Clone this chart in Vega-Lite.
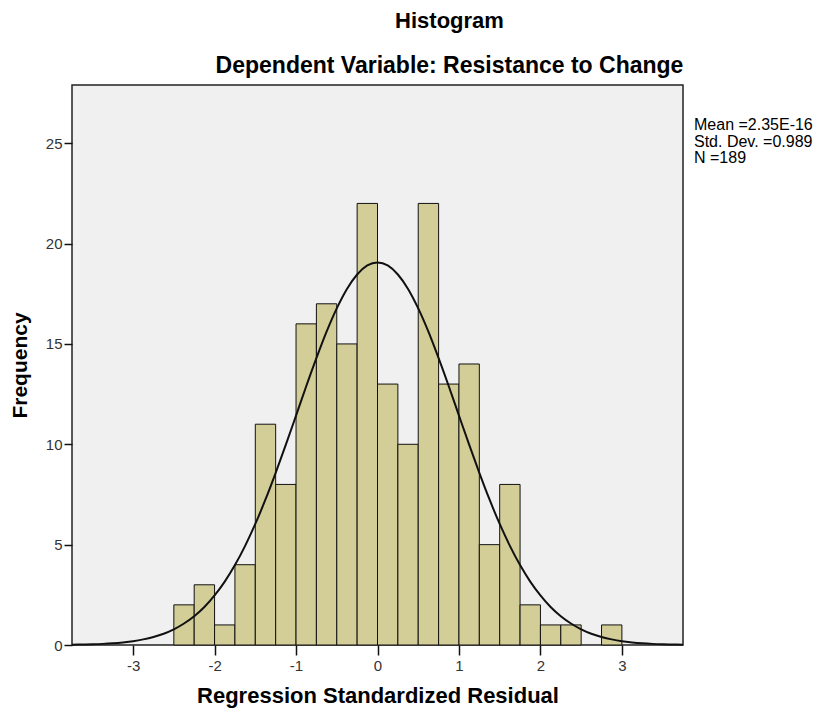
{
  "$schema": "https://vega.github.io/schema/vega-lite/v6.json",
  "width": 611,
  "height": 560,
  "autosize": "none",
  "padding": {"left": 72, "top": 85, "right": 135, "bottom": 68},
  "background": "white",
  "config": {
    "font": "Liberation Sans",
    "view": {"fill": "#f0f0f0", "stroke": "#222", "strokeWidth": 1.5}
  },
  "title": {
    "text": "Histogram",
    "subtitle": "Dependent Variable: Resistance to Change",
    "anchor": "middle",
    "dx": 72,
    "fontSize": 22,
    "fontWeight": "bold",
    "subtitleFontSize": 23,
    "subtitleFontWeight": "bold",
    "font": "Liberation Sans",
    "subtitleFont": "Liberation Sans",
    "color": "#000",
    "subtitleColor": "#000",
    "offset": 6,
    "subtitlePadding": 22
  },
  "datasets": {
    "bins": [
      {"bin_start": -2.5, "bin_end": -2.25, "count": 2},
      {"bin_start": -2.25, "bin_end": -2.0, "count": 3},
      {"bin_start": -2.0, "bin_end": -1.75, "count": 1},
      {"bin_start": -1.75, "bin_end": -1.5, "count": 4},
      {"bin_start": -1.5, "bin_end": -1.25, "count": 11},
      {"bin_start": -1.25, "bin_end": -1.0, "count": 8},
      {"bin_start": -1.0, "bin_end": -0.75, "count": 16},
      {"bin_start": -0.75, "bin_end": -0.5, "count": 17},
      {"bin_start": -0.5, "bin_end": -0.25, "count": 15},
      {"bin_start": -0.25, "bin_end": 0.0, "count": 22},
      {"bin_start": 0.0, "bin_end": 0.25, "count": 13},
      {"bin_start": 0.25, "bin_end": 0.5, "count": 10},
      {"bin_start": 0.5, "bin_end": 0.75, "count": 22},
      {"bin_start": 0.75, "bin_end": 1.0, "count": 13},
      {"bin_start": 1.0, "bin_end": 1.25, "count": 14},
      {"bin_start": 1.25, "bin_end": 1.5, "count": 5},
      {"bin_start": 1.5, "bin_end": 1.75, "count": 8},
      {"bin_start": 1.75, "bin_end": 2.0, "count": 2},
      {"bin_start": 2.0, "bin_end": 2.25, "count": 1},
      {"bin_start": 2.25, "bin_end": 2.5, "count": 1},
      {"bin_start": 2.75, "bin_end": 3.0, "count": 1}
    ],
    "curve": [
      {"x": -3.75, "y": 0.014}, {"x": -3.625, "y": 0.023}, {"x": -3.5, "y": 0.036}, {"x": -3.375, "y": 0.056},
      {"x": -3.25, "y": 0.086}, {"x": -3.125, "y": 0.13}, {"x": -3.0, "y": 0.19}, {"x": -2.875, "y": 0.28},
      {"x": -2.75, "y": 0.40}, {"x": -2.625, "y": 0.56}, {"x": -2.5, "y": 0.78}, {"x": -2.375, "y": 1.07},
      {"x": -2.25, "y": 1.43}, {"x": -2.125, "y": 1.89}, {"x": -2.0, "y": 2.47}, {"x": -1.875, "y": 3.16},
      {"x": -1.75, "y": 3.98}, {"x": -1.625, "y": 4.94}, {"x": -1.5, "y": 6.03}, {"x": -1.375, "y": 7.25},
      {"x": -1.25, "y": 8.58}, {"x": -1.125, "y": 9.98}, {"x": -1.0, "y": 11.43}, {"x": -0.875, "y": 12.89},
      {"x": -0.75, "y": 14.29}, {"x": -0.625, "y": 15.61}, {"x": -0.5, "y": 16.77}, {"x": -0.375, "y": 17.74},
      {"x": -0.25, "y": 18.46}, {"x": -0.125, "y": 18.91}, {"x": 0.0, "y": 19.06}, {"x": 0.125, "y": 18.91},
      {"x": 0.25, "y": 18.46}, {"x": 0.375, "y": 17.74}, {"x": 0.5, "y": 16.77}, {"x": 0.625, "y": 15.61},
      {"x": 0.75, "y": 14.29}, {"x": 0.875, "y": 12.89}, {"x": 1.0, "y": 11.43}, {"x": 1.125, "y": 9.98},
      {"x": 1.25, "y": 8.58}, {"x": 1.375, "y": 7.25}, {"x": 1.5, "y": 6.03}, {"x": 1.625, "y": 4.94},
      {"x": 1.75, "y": 3.98}, {"x": 1.875, "y": 3.16}, {"x": 2.0, "y": 2.47}, {"x": 2.125, "y": 1.89},
      {"x": 2.25, "y": 1.43}, {"x": 2.375, "y": 1.07}, {"x": 2.5, "y": 0.78}, {"x": 2.625, "y": 0.56},
      {"x": 2.75, "y": 0.40}, {"x": 2.875, "y": 0.28}, {"x": 3.0, "y": 0.19}, {"x": 3.125, "y": 0.13},
      {"x": 3.25, "y": 0.086}, {"x": 3.375, "y": 0.056}, {"x": 3.5, "y": 0.036}, {"x": 3.625, "y": 0.023},
      {"x": 3.75, "y": 0.014}
    ],
    "stats": [{"label": "stats"}]
  },
  "layer": [
    {
      "data": {"name": "bins"},
      "mark": {"type": "rect", "fill": "#d3ce98", "stroke": "#111", "strokeWidth": 1},
      "encoding": {
        "x": {
          "field": "bin_start", "type": "quantitative",
          "scale": {"domain": [-3.75, 3.75], "nice": false, "zero": false},
          "axis": {
            "title": "Regression Standardized Residual",
            "values": [-3, -2, -1, 0, 1, 2, 3],
            "labelExpr": "datum.value < 0 ? '-' + abs(datum.value) : '' + datum.value",
            "domain": false,
            "grid": false,
            "tickSize": 10,
            "tickColor": "#111",
            "tickWidth": 1.5,
            "labelFontSize": 15,
            "labelColor": "#333",
            "labelPadding": 3,
            "titleFontSize": 22,
            "titleFontWeight": "bold",
            "titleColor": "#000",
            "titlePadding": 12
          }
        },
        "x2": {"field": "bin_end"},
        "y": {
          "field": "count", "type": "quantitative",
          "scale": {"domain": [0, 27.9], "nice": false},
          "axis": {
            "title": "Frequency",
            "values": [0, 5, 10, 15, 20, 25],
            "domain": false,
            "grid": false,
            "tickSize": 8,
            "tickColor": "#111",
            "tickWidth": 1.5,
            "labelFontSize": 15,
            "labelColor": "#333",
            "labelPadding": 2,
            "titleFontSize": 21,
            "titleFontWeight": "bold",
            "titleColor": "#000",
            "titlePadding": 15
          }
        },
        "y2": {"datum": 0}
      }
    },
    {
      "data": {"name": "curve"},
      "mark": {"type": "line", "color": "#111", "strokeWidth": 2, "interpolate": "monotone"},
      "encoding": {
        "x": {"field": "x", "type": "quantitative"},
        "y": {"field": "y", "type": "quantitative"}
      }
    },
    {
      "data": {"name": "stats"},
      "mark": {
        "type": "text",
        "text": ["Mean =2.35E-16", "Std. Dev. =0.989", "N =189"],
        "align": "left",
        "baseline": "top",
        "dx": 11,
        "fontSize": 16,
        "lineHeight": 16.5,
        "color": "#000"
      },
      "encoding": {
        "x": {"datum": 3.75, "type": "quantitative"},
        "y": {"datum": 26.3, "type": "quantitative"}
      }
    }
  ]
}
